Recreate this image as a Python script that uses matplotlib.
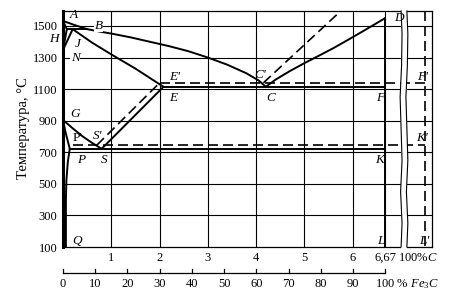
import numpy as np
import matplotlib
matplotlib.use("Agg")
import matplotlib.pyplot as plt
from matplotlib.transforms import blended_transform_factory
from matplotlib.patches import Rectangle

plt.rcParams['font.family'] = ['Liberation Serif', 'DejaVu Serif']
plt.rcParams['mathtext.fontset'] = 'custom'
plt.rcParams['mathtext.rm'] = 'Liberation Serif'
plt.rcParams['mathtext.it'] = 'Liberation Serif:italic'

# --- data (%C, degC) ---
liquidus_c = [0, 0.25, 0.5, 0.75, 1.0, 1.4, 1.8, 2.2, 2.6, 3.0, 3.4, 3.8, 4.05, 4.2]
liquidus_t = [1532, 1505, 1480, 1465, 1452, 1428, 1400, 1372, 1340, 1300, 1255, 1200, 1155, 1115]
solidus_c = [0.2, 0.6, 1.0, 1.5, 2.08]
solidus_t = [1480, 1395, 1320, 1230, 1115]
hjb_c = [0.08, 0.5]
hjb_t = [1480, 1480]
ah_c, ah_t = [0, 0.08], [1532, 1480]
hn_c, hn_t = [0.08, 0.0], [1480, 1348]
jn_c, jn_t = [0.2, 0.0], [1480, 1348]
gs_c = [0, 0.2, 0.4, 0.6, 0.8]
gs_t = [905, 852, 802, 760, 722]
gp_c = [0, 0.05, 0.1, 0.14]
gp_t = [905, 830, 770, 722]
pq_c = [0.14, 0.1, 0.07, 0.06, 0.06]
pq_t = [722, 640, 520, 400, 100]
se_c, se_t = [0.8, 2.08], [722, 1115]
se2_c, se2_t = [0.7, 2.0], [745, 1140]
cd_c = [4.2, 4.4, 4.7, 5.0, 5.3, 5.6, 5.9, 6.2, 6.45, 6.67]
cd_t = [1115, 1160, 1215, 1265, 1312, 1360, 1412, 1465, 1510, 1550]
cd2_c, cd2_t = [4.15, 5.75], [1140, 1595]
ecf_c, ecf_t = [2.08, 6.67], [1115, 1115]
ecf2_c, ecf2_t = [2.0, 7.49], [1140, 1140]
psk_c, psk_t = [0.14, 6.67], [722, 722]
psk2_c, psk2_t = [0.2, 7.49], [745, 745]
cem_c, cem_t = [6.67, 6.67], [1550, 100]
graph_c, graph_t = [7.49, 7.49], [1595, 100]

temp_ticks = [100, 300, 500, 700, 900, 1100, 1300, 1500]
c_ticks = [1, 2, 3, 4, 5, 6]
fe3c_ticks = [0, 10, 20, 30, 40, 50, 60, 70, 80, 90, 100]

point_labels = [
    ("A", 0.14, 1568, True), ("B", 0.66, 1500, True), ("H", -0.08, 1415, True),
    ("J", 0.24, 1385, True), ("N", 0.16, 1300, True), ("G", 0.16, 940, True),
    ("P'", 0.2, 790, False), ("P", 0.3, 650, True), ("S'", 0.62, 800, True),
    ("S", 0.78, 650, True), ("Q", 0.2, 140, True), ("E'", 2.2, 1180, True),
    ("E", 2.2, 1045, True), ("C'", 3.95, 1190, True), ("C", 4.2, 1045, True),
    ("D", 6.85, 1550, True), ("F", 6.48, 1045, True), ("F'", 7.34, 1180, True),
    ("K", 6.46, 650, True), ("K'", 7.32, 790, True), ("L", 6.5, 140, True),
    ("L'", 7.38, 140, True),
]

fig = plt.figure(figsize=(4.57, 2.98), dpi=100)
ax = fig.add_axes([63 / 457, 51 / 298, 369 / 457, 236 / 298])
ax.set_xlim(0, 7.64)
ax.set_ylim(100, 1595)
ax.set_xticks([])
ax.set_yticks(temp_ticks)
ax.set_yticklabels([str(t) for t in temp_ticks], fontsize=9)
ax.tick_params(axis='y', length=0, pad=4)
for s in ax.spines.values():
    s.set_linewidth(0.9)
ax.spines['left'].set_linewidth(2.2)

# grid
for t in temp_ticks[1:]:
    ax.plot([0, 7.64], [t, t], color='k', lw=0.8, zorder=1)
for c in c_ticks + [6.67]:
    ax.plot([c, c], [100, 1595], color='k', lw=0.8, zorder=1)

# solid phase lines
solid = dict(color='k', lw=1.4, zorder=2, solid_capstyle='round', solid_joinstyle='round')
for xs, ys in [(liquidus_c, liquidus_t), (solidus_c, solidus_t), (hjb_c, hjb_t),
               (ah_c, ah_t), (hn_c, hn_t), (jn_c, jn_t), (gs_c, gs_t),
               (gp_c, gp_t), (pq_c, pq_t), (se_c, se_t), (cd_c, cd_t),
               (ecf_c, ecf_t), (psk_c, psk_t), (cem_c, cem_t)]:
    ax.plot(xs, ys, **solid)

# dashed (graphite system)
dash = dict(color='k', lw=1.2, zorder=2, dashes=(6, 3))
for xs, ys in [(se2_c, se2_t), (cd2_c, cd2_t), (ecf2_c, ecf2_t),
               (psk2_c, psk2_t), (graph_c, graph_t)]:
    ax.plot(xs, ys, **dash)

# axis break
ax.add_patch(Rectangle((7.0, 60), 0.12, 1580, facecolor='white', edgecolor='none',
                       zorder=4, clip_on=False))
wig_y = [100, 250, 450, 650, 850, 1050, 1250, 1450, 1595]
wig_dx = [0.0, 0.02, -0.01, 0.02, 0.0, -0.02, 0.01, 0.02, 0.0]
for x0 in (7.0, 7.12):
    ax.plot([x0 + d for d in wig_dx], wig_y, color='k', lw=0.8, zorder=5, clip_on=False)

for name, x, y, it in point_labels:
    ax.text(x, y, name, fontsize=9.5, fontstyle='italic' if it else 'normal',
            ha='right' if name == "H" else 'left', va='center', zorder=6,
            bbox=dict(facecolor='white', edgecolor='none', pad=0.3) if name in ("B", "N") else None)

# %C labels under the axis
tr = blended_transform_factory(ax.transData, ax.transAxes)
for c in c_ticks:
    ax.text(c, -0.045, str(c), transform=tr, ha='center', va='center', fontsize=9)
ax.text(6.67, -0.045, "6,67", transform=tr, ha='center', va='center', fontsize=9)
ax.text(6.94, -0.045, "100%$C$", transform=tr, ha='left', va='center', fontsize=9)

# second scale: % Fe3C
ax.plot([0, 6.67], [-0.11, -0.11], color='k', lw=0.9, transform=tr, clip_on=False)
for f in fe3c_ticks:
    xc = f * 6.67 / 100
    ax.plot([xc, xc], [-0.11, -0.093], color='k', lw=0.9, transform=tr, clip_on=False)
    if f < 100:
        ax.text(xc, -0.158, str(f), transform=tr, ha='center', va='center', fontsize=9)
ax.text(6.67 - 0.2, -0.158, "100 % $Fe_3C$", transform=tr, ha='left', va='center',
        fontsize=9)

fig.text(24 / 457, 0.57, "Температура, °C", rotation=90, ha='center', va='center',
         fontsize=10.5)

fig.savefig("out.png", dpi=100)
